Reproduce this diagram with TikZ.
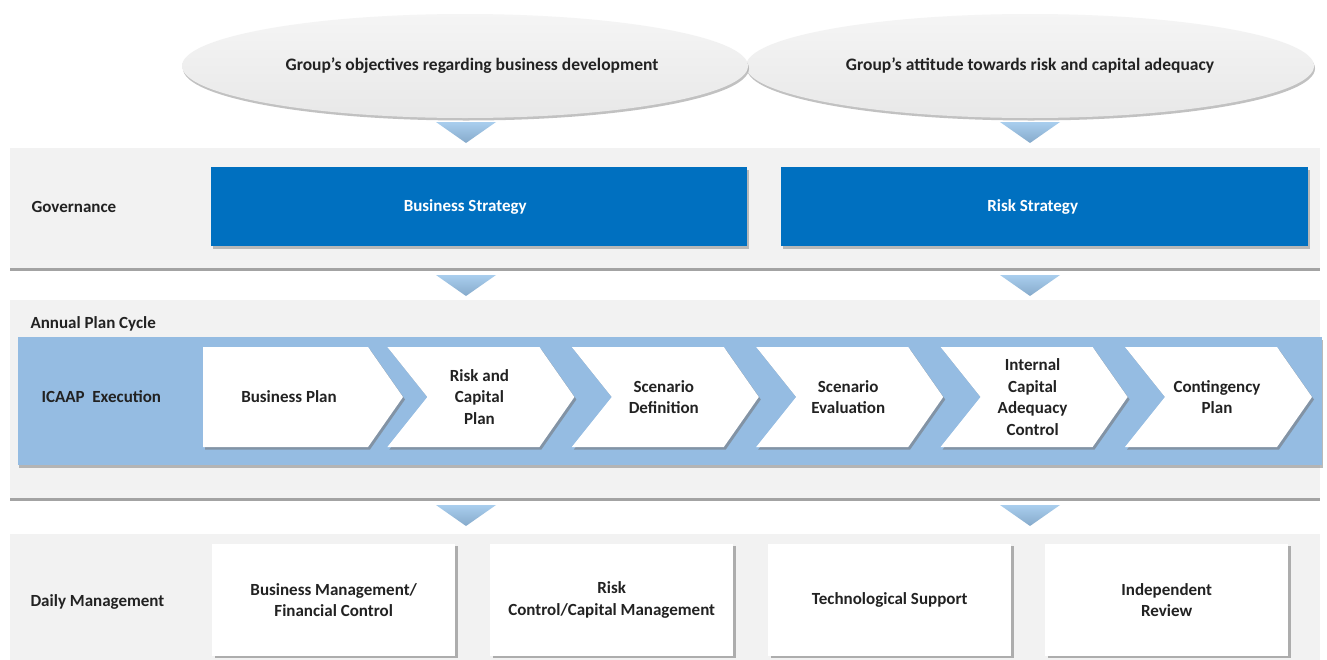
\documentclass[tikz,border=0pt]{standalone}
\usepackage{fontspec}
\setmainfont{Carlito}
\usetikzlibrary{shapes.geometric,shadows}

\definecolor{bandgray}{HTML}{F2F2F2}
\definecolor{bandshade}{HTML}{9A9A9A}
\definecolor{strategyblue}{HTML}{0070C0}
\definecolor{cycleblue}{HTML}{95BCE2}
\definecolor{markertop}{HTML}{A9CEEE}
\definecolor{markerbot}{HTML}{86AACB}
\definecolor{textdark}{HTML}{222222}

\newcommand{\labelfont}{\bfseries\fontsize{17}{21.5}\selectfont}

\tikzset{
  band/.style={rectangle, fill=bandgray, inner sep=0pt, anchor=north west,
    drop shadow={shadow xshift=0pt, shadow yshift=-2.5pt, fill=bandshade, opacity=.9}},
  goal/.style={ellipse, top color=white!96!black, bottom color=white!91!black,
    inner sep=0pt, minimum height=104pt,
    font=\bfseries\fontsize{17.5}{21}\selectfont, text=textdark,
    drop shadow={shadow xshift=1pt, shadow yshift=-2.5pt, fill=black!40, opacity=.6}},
  strategy/.style={rectangle, fill=strategyblue, inner sep=0pt, anchor=north west,
    minimum height=79pt,
    drop shadow={shadow xshift=2pt, shadow yshift=-2.5pt, fill=black!50, opacity=.5}},
  strategytext/.style={text=white, font=\labelfont},
  rowlabel/.style={anchor=west, text=textdark, font=\labelfont},
  steptext/.style={align=center, text=textdark, font=\labelfont},
  chevron/.style={fill=white,
    drop shadow={shadow xshift=2pt, shadow yshift=-2.5pt, fill=black!55, opacity=.55}},
  marker/.style={top color=markertop, bottom color=markerbot, draw=none},
  unitbox/.style={rectangle, fill=white, inner sep=0pt, anchor=north west,
    minimum width=243pt, minimum height=112pt, align=center, text=textdark,
    font=\labelfont,
    drop shadow={shadow xshift=2.5pt, shadow yshift=-2pt, fill=black!50, opacity=.6}}
}

\newcommand{\downmarker}[2]{% centre x, top y
  \path[marker] (#1-30,#2) -- (#1+30,#2) -- (#1,#2+21) -- cycle;}

\begin{document}
\begin{tikzpicture}[x=1pt,y=-1pt]
\useasboundingbox[fill=white] (0,0) rectangle (1327,659);

% --- objectives -------------------------------------------------------
\node[goal, minimum width=568pt] (attitude) at (1030,66) {Group’s attitude towards risk and capital adequacy};
\node[goal, minimum width=566pt] (objectives) at (465,66) {\hspace*{14pt}Group’s objectives regarding business development};
\downmarker{466}{122}
\downmarker{1030}{122}

% --- governance -------------------------------------------------------
\node[band, minimum width=1310pt, minimum height=120pt] (govband) at (10,148) {};
\node[rowlabel] (govlabel) at (28,207) {Governance};
\node[strategy, minimum width=536pt] (business) at (211,167) {};
\node[strategytext] (businesstext) at ([xshift=-14pt]business.center) {Business Strategy};
\node[strategy, minimum width=527pt] (risk) at (781,167) {};
\node[strategytext] (risktext) at ([xshift=-12pt]risk.center) {Risk Strategy};
\downmarker{466}{275}
\downmarker{1030}{275}

% --- annual plan cycle ------------------------------------------------
\node[band, minimum width=1310pt, minimum height=198pt] (cycleband) at (10,300) {};
\node[anchor=west, text=textdark, font=\bfseries\fontsize{17}{19}\selectfont]
  (cyclelabel) at (27,324) {Annual Plan Cycle};
\node[rectangle, fill=cycleblue, inner sep=0pt, anchor=north west,
  minimum width=1304pt, minimum height=128pt,
  drop shadow={shadow xshift=1pt, shadow yshift=-2.5pt, fill=black!45, opacity=.6}]
  (icaapband) at (18,337) {};
\node[rowlabel] (icaaplabel) at (38,397) {ICAAP\ \ Execution};

% first step: flat left side
\path[chevron] (203,347) -- (368,347) -- (403,397) -- (368,447) -- (203,447) -- cycle;
\node[steptext] (step0) at (289,397) {Business Plan};
% following steps: notched left side
\foreach \i/\lbl in {1/{Risk and\\Capital\\Plan},
                     2/{Scenario\\Definition},
                     3/{Scenario\\Evaluation},
                     4/{Internal\\Capital\\Adequacy\\Control},
                     5/{Contingency\\Plan}}{
  \pgfmathsetmacro{\L}{203+184.4*\i}
  \path[chevron] (\L,347) -- (\L+152,347) -- (\L+187,397) -- (\L+152,447)
    -- (\L,447) -- (\L+40,397) -- cycle;
  \node[steptext] (step\i) at (\L+92,397) {\lbl};
}
\downmarker{466}{505}
\downmarker{1030}{505}

% --- daily management -------------------------------------------------
\node[band, minimum width=1310pt, minimum height=130pt] (dailyband) at (10,534) {};
\node[rowlabel] (dailylabel) at (27,602) {Daily Management};
\node[unitbox] (unit1) at (212,544) {Business Management/\\Financial Control};
\node[unitbox] (unit2) at (490,544) {Risk\\Control/Capital Management};
\node[unitbox] (unit3) at (768,544) {Technological Support};
\node[unitbox] (unit4) at (1045,544) {Independent\\Review};
\end{tikzpicture}
\end{document}
